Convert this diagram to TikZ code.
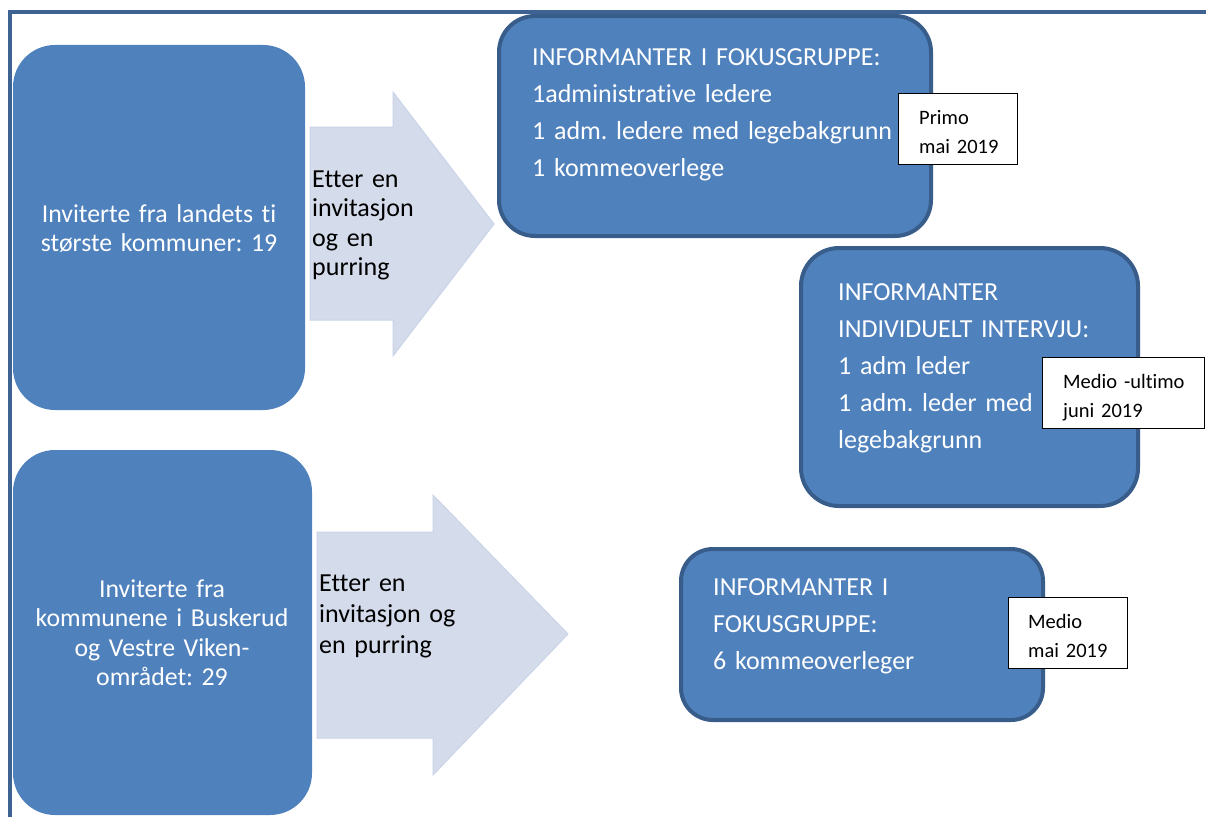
\documentclass[tikz,border=0pt]{standalone}
\usepackage{fontspec}
\setmainfont{Carlito}[Ligatures=NoCommon]
\frenchspacing
\definecolor{boxblue}{HTML}{4F81BD}
\definecolor{borderblue}{HTML}{385D8A}
\definecolor{frameblue}{HTML}{3E6292}
\definecolor{arrowfill}{HTML}{D4DBEB}
\definecolor{arrowline}{HTML}{CAD4E8}
\begin{document}
\begin{tikzpicture}[x=1pt,y=-1pt,
  bluebox/.style={rectangle, fill=boxblue, inner sep=0pt, outer sep=0pt},
  bordered/.style={draw=borderblue, line width=4pt},
  datebox/.style={rectangle, draw=black, line width=1.4pt, fill=white, inner sep=0pt, outer sep=0pt},
  boxtext/.style={text=white, inner sep=0pt, anchor=base west, text width=420pt, align=left, font=\fontsize{26}{37}\selectfont\frenchspacing},
  lefttext/.style={text=white, inner sep=0pt, anchor=base, text width=290pt, align=center, font=\fontsize{25.8}{29.5}\selectfont\frenchspacing},
  arrowtext/.style={text=black, inner sep=0pt, anchor=base west, text width=200pt, align=left, font=\fontsize{26}{29.5}\selectfont\frenchspacing},
  datetext/.style={text=black, inner sep=0pt, anchor=base west, text width=150pt, align=left, font=\fontsize{20.5}{29}\selectfont\frenchspacing},
  blockarrow/.style={fill=arrowfill, draw=arrowline, line width=1pt, line join=miter},
  framestyle/.style={draw=frameblue, line width=4pt}
]
\useasboundingbox (0,0) rectangle (1206,816);
\clip (0,0) rectangle (1206,816);
\fill[white] (0,0) rectangle (1206,816);

% frame
\coordinate (ftr) at (1215,12);
\coordinate (ftl) at (10,12);
\coordinate (fbl) at (10,825);
\draw[framestyle] (ftr) -- (ftl) -- (fbl);

% block arrows
\draw[blockarrow] (310,127) -- (393,127) -- (393,92) -- (494,224) -- (393,356) -- (393,320) -- (310,320) -- cycle;
\draw[blockarrow] (317,532) -- (433,532) -- (433,495) -- (568,634) -- (433,775) -- (433,738) -- (317,738) -- cycle;

% left boxes
\node[bluebox, rounded corners=42pt, minimum width=292pt, minimum height=365pt] (left1) at (159,227.5) {};
\node[bluebox, rounded corners=42pt, minimum width=299pt, minimum height=365pt] (left2) at (162.5,632.5) {};

\node[lefttext] (left1text) at (159,222) {Inviterte fra landets ti\\største kommuner: 19};
\node[lefttext] (left2text) at (162,597) {Inviterte fra\\kommunene i Buskerud\\og Vestre Viken-\\området: 29};

% arrow texts
\node[arrowtext] (arr1text) at (312,187) {Etter en\\invitasjon\\og en\\purring};
\node[arrowtext, font=\fontsize{26}{31}\selectfont] (arr2text) at (319,591) {Etter en\\invitasjon og\\en purring};

% right boxes
\node[bluebox, bordered, rounded corners=36pt, minimum width=432pt, minimum height=220pt] (fokus1) at (715,126) {};
\node[bluebox, bordered, rounded corners=38pt, minimum width=337pt, minimum height=258pt] (indiv) at (969.5,377) {};
\node[bluebox, bordered, rounded corners=32pt, minimum width=362pt, minimum height=171pt] (fokus2) at (862,634.5) {};

\node[boxtext] (fokus1text) at (532,65) {INFORMANTER I FOKUSGRUPPE:\\1administrative ledere\\1 adm. ledere med legebakgrunn\\1 kommeoverlege};
\node[boxtext] (indivtext) at (838,300) {INFORMANTER\\INDIVIDUELT INTERVJU:\\1 adm leder\\1 adm. leder med\\legebakgrunn};
\node[boxtext] (fokus2text) at (713,595) {INFORMANTER I\\FOKUSGRUPPE:\\6 kommeoverleger};

% date boxes
\node[datebox, minimum width=118.5pt, minimum height=70.5pt] (date1) at (958,129) {};
\node[datebox, minimum width=161.5pt, minimum height=70.5pt] (date2) at (1123.5,393) {};
\node[datebox, minimum width=118.5pt, minimum height=70.5pt] (date3) at (1068,633) {};

\node[datetext] (date1text) at (919,124) {Primo\\mai 2019};
\node[datetext] (date2text) at (1063,388) {Medio -ultimo\\juni 2019};
\node[datetext] (date3text) at (1028,628) {Medio\\mai 2019};
\end{tikzpicture}
\end{document}
